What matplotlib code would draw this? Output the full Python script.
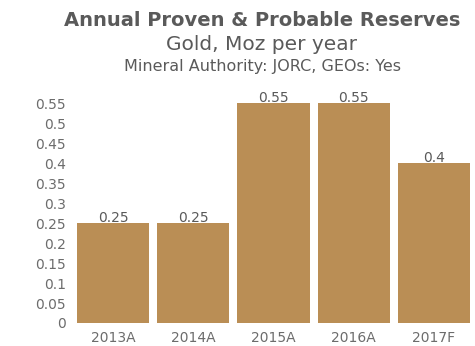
import matplotlib
matplotlib.use("Agg")
from matplotlib import pyplot as plt
import numpy as np

plt.rcParams['font.family'] = ['DejaVu Sans']

# reserves per year, Moz
years = ["2013A", "2014A", "2015A", "2016A", "2017F"]
reserves = [0.25, 0.25, 0.55, 0.55, 0.4]
y_ticks = [0, 0.05, 0.1, 0.15, 0.2, 0.25, 0.3, 0.35, 0.4, 0.45, 0.5, 0.55]
y_tick_labels = ["0", "0.05", "0.1", "0.15", "0.2", "0.25", "0.3", "0.35", "0.4", "0.45", "0.5", "0.55"]

BAR_COLOR = "#BA8E55"
TEXT_COLOR = "#5a5a5a"
TICK_COLOR = "#6c6c6c"

fig = plt.figure(figsize=(4.75, 3.46), dpi=100)
ax = fig.add_axes([77 / 475, 23 / 346, 393 / 475, 229 / 346])

x = np.arange(len(years))
bars = ax.bar(x, reserves, width=0.9, color=BAR_COLOR)

for rect, val in zip(bars, reserves):
    ax.text(rect.get_x() + rect.get_width() / 2, val - 0.004, f"{val:g}",
            ha="center", va="bottom", fontsize=10, color=TEXT_COLOR)

ax.set_xlim(-0.45, len(years) - 0.55)
ax.set_ylim(0, 0.573)
ax.set_xticks(x)
ax.set_xticklabels(years, fontsize=10, color=TICK_COLOR)
ax.set_yticks(y_ticks)
ax.set_yticklabels(y_tick_labels, fontsize=10, color=TICK_COLOR)
ax.tick_params(axis="both", length=0)
ax.tick_params(axis="y", pad=8)
ax.tick_params(axis="x", pad=6)
for spine in ax.spines.values():
    spine.set_visible(False)

fig.text(262 / 475, 1 - 21 / 346, "Annual Proven & Probable Reserves", ha="center", va="center",
         fontsize=14, fontweight="bold", color=TEXT_COLOR)
fig.text(262 / 475, 1 - 44 / 346, "Gold, Moz per year", ha="center", va="center",
         fontsize=14.5, color=TEXT_COLOR)
fig.text(262 / 475, 1 - 66 / 346, "Mineral Authority: JORC, GEOs: Yes", ha="center", va="center",
         fontsize=11.5, color=TEXT_COLOR)

fig.savefig("out.png", dpi=100)
